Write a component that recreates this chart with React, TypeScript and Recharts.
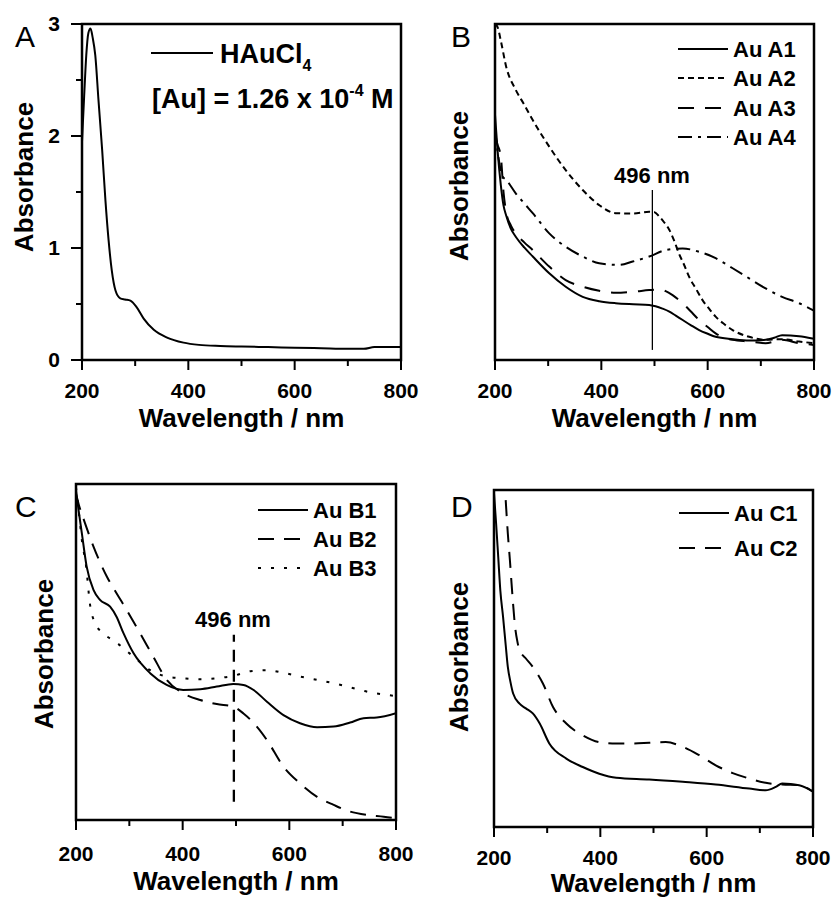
import React from 'react';
import { LineChart, Line, XAxis, YAxis, ReferenceLine, ReferenceArea } from 'recharts';

// ---------- ticks ----------
const wavelengthTicks = [200, 300, 400, 500, 600, 700, 800];
const wavelengthLabels = [200, 400, 600, 800];
const absTicksA = [0, 0.5, 1, 1.5, 2, 2.5, 3];
const absLabelsA = [0, 1, 2, 3];

// ---------- Panel A ----------
const hauclWl = [200, 204, 208, 212, 216, 220, 225, 231, 238, 244, 250, 256, 263, 272, 281, 291, 303, 316, 335, 360, 391, 420, 460, 500, 550, 600, 650, 700, 730, 750, 800];
const hauclAbs = [1.95, 2.35, 2.72, 2.92, 2.96, 2.88, 2.72, 2.32, 1.87, 1.43, 1.07, 0.8, 0.62, 0.55, 0.54, 0.53, 0.47, 0.37, 0.27, 0.2, 0.155, 0.135, 0.125, 0.12, 0.115, 0.11, 0.105, 0.1, 0.1, 0.115, 0.115];

// ---------- Panel B ----------
const a1Wl = [200, 205, 211, 216, 221, 230, 239, 255, 271, 302, 333, 365, 396, 427, 460, 490, 502, 515, 528, 540, 553, 568, 584, 600, 615, 647, 678, 709, 725, 740, 772, 797, 800];
const a1Abs = [0.73, 0.62, 0.52, 0.46, 0.43, 0.39, 0.367, 0.335, 0.308, 0.258, 0.218, 0.188, 0.175, 0.169, 0.166, 0.164, 0.16, 0.153, 0.144, 0.132, 0.119, 0.104, 0.089, 0.078, 0.069, 0.062, 0.058, 0.06, 0.066, 0.074, 0.071, 0.064, 0.063];
const a2Wl = [200, 205, 211, 221, 239, 255, 271, 302, 333, 365, 396, 427, 459, 490, 500, 509, 518, 528, 537, 546, 556, 565, 578, 590, 603, 615, 631, 647, 678, 709, 740, 772, 800];
const a2Abs = [1.0, 0.99, 0.95, 0.873, 0.804, 0.76, 0.714, 0.635, 0.565, 0.506, 0.461, 0.437, 0.436, 0.441, 0.44, 0.427, 0.41, 0.387, 0.355, 0.317, 0.282, 0.248, 0.212, 0.179, 0.152, 0.129, 0.107, 0.089, 0.069, 0.06, 0.062, 0.055, 0.05];
const a3Wl = [200, 205, 211, 216, 221, 230, 239, 255, 271, 302, 333, 365, 396, 427, 460, 490, 509, 521, 534, 553, 568, 584, 600, 615, 647, 678, 709, 740, 772, 800];
const a3Abs = [0.665, 0.64, 0.605, 0.5, 0.44, 0.4, 0.377, 0.35, 0.327, 0.278, 0.238, 0.218, 0.206, 0.2, 0.203, 0.208, 0.21, 0.205, 0.193, 0.169, 0.145, 0.119, 0.098, 0.079, 0.06, 0.055, 0.05, 0.06, 0.05, 0.045];
const a4Wl = [200, 205, 210, 215, 221, 239, 255, 271, 302, 333, 365, 396, 434, 459, 490, 521, 553, 584, 615, 647, 678, 709, 740, 772, 800];
const a4Abs = [0.69, 0.62, 0.57, 0.545, 0.536, 0.496, 0.466, 0.437, 0.377, 0.337, 0.308, 0.288, 0.283, 0.293, 0.308, 0.327, 0.332, 0.322, 0.303, 0.273, 0.243, 0.213, 0.188, 0.169, 0.147];

// ---------- Panel C ----------
const b1Wl = [200, 205, 211, 220, 233, 245, 264, 276, 289, 308, 339, 370, 401, 433, 464, 495, 514, 533, 558, 589, 620, 652, 683, 714, 739, 764, 800];
const b1Abs = [0.98, 0.92, 0.853, 0.754, 0.684, 0.655, 0.635, 0.605, 0.556, 0.496, 0.437, 0.402, 0.387, 0.389, 0.397, 0.405, 0.402, 0.387, 0.352, 0.312, 0.288, 0.276, 0.278, 0.29, 0.303, 0.305, 0.318];
const b2Wl = [200, 205, 217, 233, 258, 276, 295, 320, 345, 370, 401, 433, 464, 495, 514, 539, 558, 589, 620, 652, 683, 714, 746, 777, 800];
const b2Abs = [0.97, 0.94, 0.883, 0.813, 0.724, 0.675, 0.625, 0.556, 0.486, 0.417, 0.377, 0.357, 0.345, 0.337, 0.317, 0.278, 0.238, 0.159, 0.109, 0.069, 0.045, 0.025, 0.015, 0.01, 0.005];
const b3Wl = [200, 205, 211, 219, 226, 236, 251, 276, 308, 339, 370, 401, 433, 464, 495, 527, 558, 589, 620, 652, 683, 714, 746, 800];
const b3Abs = [0.99, 0.92, 0.833, 0.754, 0.645, 0.585, 0.556, 0.528, 0.486, 0.446, 0.427, 0.422, 0.419, 0.422, 0.429, 0.443, 0.446, 0.438, 0.427, 0.417, 0.407, 0.395, 0.382, 0.369];

// ---------- Panel D ----------
const c1Wl = [200, 204, 208, 212, 217, 222, 226, 231, 236, 248, 260, 273, 286, 304, 336, 367, 398, 430, 492, 555, 617, 680, 711, 730, 742, 774, 800];
const c1Abs = [0.99, 0.9, 0.8, 0.7, 0.624, 0.54, 0.475, 0.43, 0.396, 0.366, 0.352, 0.337, 0.307, 0.248, 0.203, 0.178, 0.158, 0.146, 0.141, 0.134, 0.126, 0.114, 0.109, 0.119, 0.129, 0.124, 0.105];
const c2Wl = [222, 226, 230, 233, 236, 239, 244, 248, 260, 273, 292, 311, 336, 367, 398, 430, 461, 492, 523, 555, 586, 617, 649, 680, 711, 742, 774, 800];
const c2Abs = [0.97, 0.871, 0.79, 0.723, 0.66, 0.604, 0.55, 0.525, 0.5, 0.475, 0.426, 0.356, 0.307, 0.272, 0.252, 0.248, 0.248, 0.25, 0.252, 0.238, 0.213, 0.183, 0.16, 0.144, 0.131, 0.126, 0.124, 0.105];

const marker496 = 496;

const zip = (wl: number[], ab: number[]) => wl.map((w, i) => ({ wl: w, abs: ab[i] }));

const FONT = '"Liberation Sans", Arial, sans-serif';

const XTickLabel = (props: any) => {
  const { x, y, payload, labelDy } = props;
  if (!wavelengthLabels.includes(payload.value)) return <g />;
  return (
    <text x={x} y={y + labelDy} textAnchor="middle" fontFamily={FONT} fontWeight="bold" fontSize={21} fill="#000">
      {payload.value}
    </text>
  );
};

const YTickLabelA = (props: any) => {
  const { x, y, payload } = props;
  if (!absLabelsA.includes(payload.value)) return <g />;
  return (
    <text x={x - 22} y={y + 7} textAnchor="end" fontFamily={FONT} fontWeight="bold" fontSize={21} fill="#000">
      {payload.value}
    </text>
  );
};

type Series = { data: { wl: number; abs: number }[]; dash?: string; key: string };

// plot boxes in page pixels (must agree with the margins below)
const boxes = {
  A: { x: 82, y: 24, w: 319, h: 336 },
  B: { x: 495, y: 24, w: 319, h: 336 },
  C: { x: 76, y: 484, w: 320, h: 336 },
  D: { x: 494, y: 490, w: 319, h: 337 },
};

const Panel = ({ left, top, width, height, margin, series, yDomain, yTicks, labelDy, refLine }: any) => (
  <div style={{ position: 'absolute', left, top, width, height }}>
    <LineChart width={width} height={height} margin={margin}>
      <XAxis
        dataKey="wl"
        type="number"
        domain={[200, 800]}
        ticks={wavelengthTicks}
        tickSize={0}
        tickMargin={0}
        tickLine={false}
        axisLine={false}
        height={40}
        allowDataOverflow
        tick={(p: any) => <XTickLabel {...p} labelDy={labelDy} />}
      />
      {yTicks ? (
        <YAxis
          type="number"
          domain={yDomain}
          ticks={yTicks}
          width={50}
          tickSize={0}
          tickMargin={0}
          tickLine={false}
          axisLine={false}
          allowDataOverflow
          tick={(p: any) => <YTickLabelA {...p} />}
        />
      ) : (
        <YAxis type="number" domain={yDomain} hide allowDataOverflow />
      )}
      <ReferenceArea
        x1={200}
        x2={800}
        y1={yDomain[0]}
        y2={yDomain[1]}
        fill="none"
        fillOpacity={0}
        stroke="#000"
        strokeWidth={2.5}
        ifOverflow="visible"
      />
      {refLine && (
        <ReferenceLine
          segment={[{ x: marker496, y: refLine.y1 }, { x: marker496, y: refLine.y2 }]}
          stroke="#000"
          strokeWidth={refLine.w}
          strokeDasharray={refLine.dash}
          ifOverflow="visible"
        />
      )}
      {series.map((s: Series) => (
        <Line
          key={s.key}
          data={s.data}
          dataKey="abs"
          type="monotone"
          stroke="#000"
          strokeWidth={2}
          strokeDasharray={s.dash}
          dot={false}
          activeDot={false}
          isAnimationActive={false}
        />
      ))}
    </LineChart>
  </div>
);

const T = (props: any) => <text fontFamily={FONT} fontWeight="bold" fill="#000" {...props} />;

const LegendRows = ({ x1, x2, tx, rows }: any) => (
  <g>
    {rows.map((r: any) => (
      <g key={r.label}>
        <line x1={x1} x2={x2} y1={r.y} y2={r.y} stroke="#000" strokeWidth={2} strokeDasharray={r.dash} />
        <T x={tx} y={r.y + 8} fontSize={22}>{r.label}</T>
      </g>
    ))}
  </g>
);

const XTickMarks = ({ box }: any) => (
  <g>
    {wavelengthTicks.map((v) => {
      const px = box.x + ((v - 200) / 600) * box.w;
      const len = wavelengthLabels.includes(v) ? 10 : 6;
      return <line key={v} x1={px} x2={px} y1={box.y + box.h} y2={box.y + box.h + len} stroke="#000" strokeWidth={2} />;
    })}
  </g>
);

const YTickMarksA = ({ box }: any) => (
  <g>
    {absTicksA.map((v) => {
      const py = box.y + box.h - (v / 3) * box.h;
      const len = absLabelsA.includes(v) ? 11 : 6;
      return <line key={v} x1={box.x - len} x2={box.x} y1={py} y2={py} stroke="#000" strokeWidth={2} />;
    })}
  </g>
);

export default function App() {
  const dashA2 = '6 4';
  const dashA3 = '16 11';
  const dashA4 = '14 6 3 6';
  const dashLong = '16 10';
  const dotB3 = '3 10';
  return (
    <div style={{ position: 'absolute', left: 0, top: 0, width: 833, height: 899, background: '#fff', overflow: 'hidden' }}>
      <Panel
        left={0}
        top={0}
        width={440}
        height={449}
        margin={{ top: 24, right: 39, left: 32, bottom: 49 }}
        yDomain={[0, 3]}
        yTicks={absTicksA}
        labelDy={38}
        series={[{ key: 'haucl', data: zip(hauclWl, hauclAbs) }]}
      />
      <Panel
        left={416}
        top={0}
        width={417}
        height={449}
        margin={{ top: 24, right: 19, left: 79, bottom: 49 }}
        yDomain={[0, 1]}
        labelDy={38}
        refLine={{ y1: 0.03, y2: 0.506, w: 1.3 }}
        series={[
          { key: 'a1', data: zip(a1Wl, a1Abs) },
          { key: 'a2', data: zip(a2Wl, a2Abs), dash: dashA2 },
          { key: 'a3', data: zip(a3Wl, a3Abs), dash: dashA3 },
          { key: 'a4', data: zip(a4Wl, a4Abs), dash: dashA4 },
        ]}
      />
      <Panel
        left={0}
        top={450}
        width={440}
        height={449}
        margin={{ top: 34, right: 44, left: 76, bottom: 39 }}
        yDomain={[0, 1]}
        labelDy={41}
        refLine={{ y1: 0.054, y2: 0.551, w: 2.3, dash: '12 8' }}
        series={[
          { key: 'b1', data: zip(b1Wl, b1Abs) },
          { key: 'b2', data: zip(b2Wl, b2Abs), dash: dashLong },
          { key: 'b3', data: zip(b3Wl, b3Abs), dash: dotB3 },
        ]}
      />
      <Panel
        left={416}
        top={450}
        width={417}
        height={449}
        margin={{ top: 40, right: 20, left: 78, bottom: 32 }}
        yDomain={[0, 1]}
        labelDy={38}
        series={[
          { key: 'c1', data: zip(c1Wl, c1Abs) },
          { key: 'c2', data: zip(c2Wl, c2Abs), dash: dashLong },
        ]}
      />
      <svg width={833} height={899} style={{ position: 'absolute', left: 0, top: 0, pointerEvents: 'none' }}>
        <XTickMarks box={boxes.A} />
        <XTickMarks box={boxes.B} />
        <XTickMarks box={boxes.C} />
        <XTickMarks box={boxes.D} />
        <YTickMarksA box={boxes.A} />

        <text x={15} y={47} fontFamily={FONT} fontSize={30} fill="#000">A</text>
        <text x={451} y={47} fontFamily={FONT} fontSize={30} fill="#000">B</text>
        <text x={15} y={517} fontFamily={FONT} fontSize={30} fill="#000">C</text>
        <text x={451} y={517} fontFamily={FONT} fontSize={30} fill="#000">D</text>

        <T x={241.5} y={427} fontSize={26} textAnchor="middle">Wavelength / nm</T>
        <T x={654.5} y={427} fontSize={26} textAnchor="middle">Wavelength / nm</T>
        <T x={236} y={890} fontSize={26} textAnchor="middle">Wavelength / nm</T>
        <T x={653.5} y={892} fontSize={26} textAnchor="middle">Wavelength / nm</T>
        <T x={33} y={177} fontSize={26} textAnchor="middle" transform="rotate(-90 33 177)">Absorbance</T>
        <T x={468} y={186} fontSize={26} textAnchor="middle" transform="rotate(-90 468 186)">Absorbance</T>
        <T x={53} y={654} fontSize={26} textAnchor="middle" transform="rotate(-90 53 654)">Absorbance</T>
        <T x={468} y={657} fontSize={26} textAnchor="middle" transform="rotate(-90 468 657)">Absorbance</T>

        <line x1={151} x2={213} y1={53} y2={53} stroke="#000" strokeWidth={2} />
        <T x={220} y={63} fontSize={27}>
          HAuCl<tspan fontSize={16} dy={8}>4</tspan>
        </T>
        <T x={152} y={108} fontSize={27}>
          [Au] = 1.26 x 10<tspan fontSize={16} dy={-12}>-4</tspan>
          <tspan dy={12}> M</tspan>
        </T>

        <LegendRows
          x1={678}
          x2={728}
          tx={733}
          rows={[
            { label: 'Au A1', y: 49 },
            { label: 'Au A2', y: 78, dash: dashA2 },
            { label: 'Au A3', y: 108, dash: dashA3 },
            { label: 'Au A4', y: 137, dash: dashA4 },
          ]}
        />
        <T x={652} y={183} fontSize={22} textAnchor="middle">496 nm</T>

        <LegendRows
          x1={258}
          x2={308}
          tx={313}
          rows={[
            { label: 'Au B1', y: 510 },
            { label: 'Au B2', y: 539, dash: dashLong },
            { label: 'Au B3', y: 568, dash: dotB3 },
          ]}
        />
        <T x={233} y={627} fontSize={22} textAnchor="middle">496 nm</T>

        <LegendRows
          x1={679}
          x2={729}
          tx={734}
          rows={[
            { label: 'Au C1', y: 513 },
            { label: 'Au C2', y: 548, dash: dashLong },
          ]}
        />
      </svg>
    </div>
  );
}
